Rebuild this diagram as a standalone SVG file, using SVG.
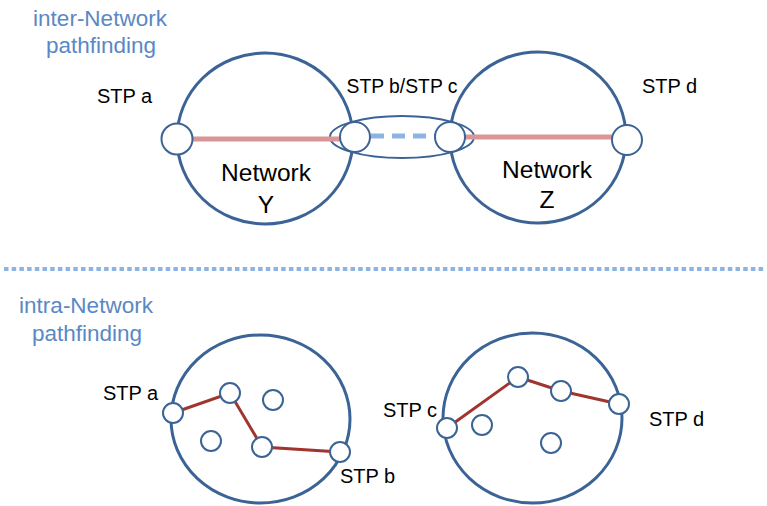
<svg xmlns="http://www.w3.org/2000/svg" width="767" height="506" viewBox="0 0 767 506">
<style>
.net{fill:#fff;stroke:#3b6395;stroke-width:3}
.stp{fill:#fff;stroke:#3b6395;stroke-width:2}
.lbl{font-family:"Liberation Sans",Arial,sans-serif;font-size:20px;fill:#000}
.big{font-family:"Liberation Sans",Arial,sans-serif;font-size:24.5px;fill:#000}
.ttl{font-family:"Liberation Sans",Arial,sans-serif;font-size:22.5px;fill:#5a88c4}
.path1{stroke:#d99694;stroke-width:5;fill:none}
.path2{stroke:#a0342f;stroke-width:3;fill:none}
</style>
<rect width="767" height="506" fill="#fff"/>
<g id="title-inter">
<text class="ttl" x="100" y="26" text-anchor="middle">inter-Network</text>
<text class="ttl" x="101" y="53" text-anchor="middle">pathfinding</text>
</g>
<g id="networkY">
<ellipse class="net" cx="265" cy="138.5" rx="88" ry="85.5"/>
<text class="big" x="266" y="181" text-anchor="middle">Network</text>
<text class="big" x="266" y="213" text-anchor="middle">Y</text>
</g>
<g id="networkZ">
<ellipse class="net" cx="538" cy="137.5" rx="88" ry="85.5"/>
<text class="big" x="547" y="178" text-anchor="middle">Network</text>
<text class="big" x="547" y="208" text-anchor="middle">Z</text>
</g>
<g id="stp-bc-group">
<ellipse fill="none" stroke="#3b6395" stroke-width="2" cx="402" cy="137" rx="72" ry="21"/>
<text class="lbl" x="402" y="93" text-anchor="middle" textLength="111" lengthAdjust="spacingAndGlyphs">STP b/STP c</text>
</g>
<g id="connectors-top">
<line class="path1" x1="192" y1="139" x2="341" y2="139"/>
<line class="path1" x1="465" y1="137" x2="612" y2="137"/>
<line stroke="#8db3e2" stroke-width="5" stroke-dasharray="13,8" x1="371" y1="136" x2="436" y2="136"/>
</g>
<g id="stp-a-top">
<circle class="stp" cx="177" cy="139" r="15.5"/>
<text class="lbl" x="97" y="103">STP a</text>
</g>
<g id="stp-b-top"><circle class="stp" cx="355" cy="137" r="15"/></g>
<g id="stp-c-top"><circle class="stp" cx="450" cy="137" r="15"/></g>
<g id="stp-d-top">
<circle class="stp" cx="627" cy="140" r="15"/>
<text class="lbl" x="642" y="93">STP d</text>
</g>
<g id="divider">
<line x1="4" y1="269" x2="765" y2="269" stroke="#8db3e2" stroke-width="4" stroke-dasharray="4.5,3.2"/>
</g>
<g id="title-intra">
<text class="ttl" x="86" y="313" text-anchor="middle">intra-Network</text>
<text class="ttl" x="87" y="341" text-anchor="middle">pathfinding</text>
</g>
<g id="networkY-intra">
<ellipse class="net" cx="260.5" cy="419" rx="89.5" ry="84"/>
</g>
<g id="networkZ-intra">
<ellipse class="net" cx="532.5" cy="418" rx="89.5" ry="85"/>
</g>
<g id="connectors-bottom">
<polyline class="path2" points="173,413 230,393 262,447 340,452"/>
<polyline class="path2" points="447,428 518,377 561,391 619,404"/>
</g>
<g id="nodes-Y">
<circle class="stp" cx="173" cy="413" r="10"/>
<circle class="stp" cx="230" cy="393" r="10"/>
<circle class="stp" cx="273" cy="400" r="10"/>
<circle class="stp" cx="211" cy="441" r="10"/>
<circle class="stp" cx="262" cy="447" r="10"/>
<circle class="stp" cx="340" cy="452" r="10"/>
<text class="lbl" x="103" y="400">STP a</text>
<text class="lbl" x="340" y="483">STP b</text>
</g>
<g id="nodes-Z">
<circle class="stp" cx="447" cy="428" r="10"/>
<circle class="stp" cx="518" cy="377" r="10"/>
<circle class="stp" cx="561" cy="391" r="10"/>
<circle class="stp" cx="619" cy="404" r="10"/>
<circle class="stp" cx="482" cy="425" r="10"/>
<circle class="stp" cx="551" cy="443" r="10"/>
<text class="lbl" x="383" y="417">STP c</text>
<text class="lbl" x="649" y="426">STP d</text>
</g>
</svg>
